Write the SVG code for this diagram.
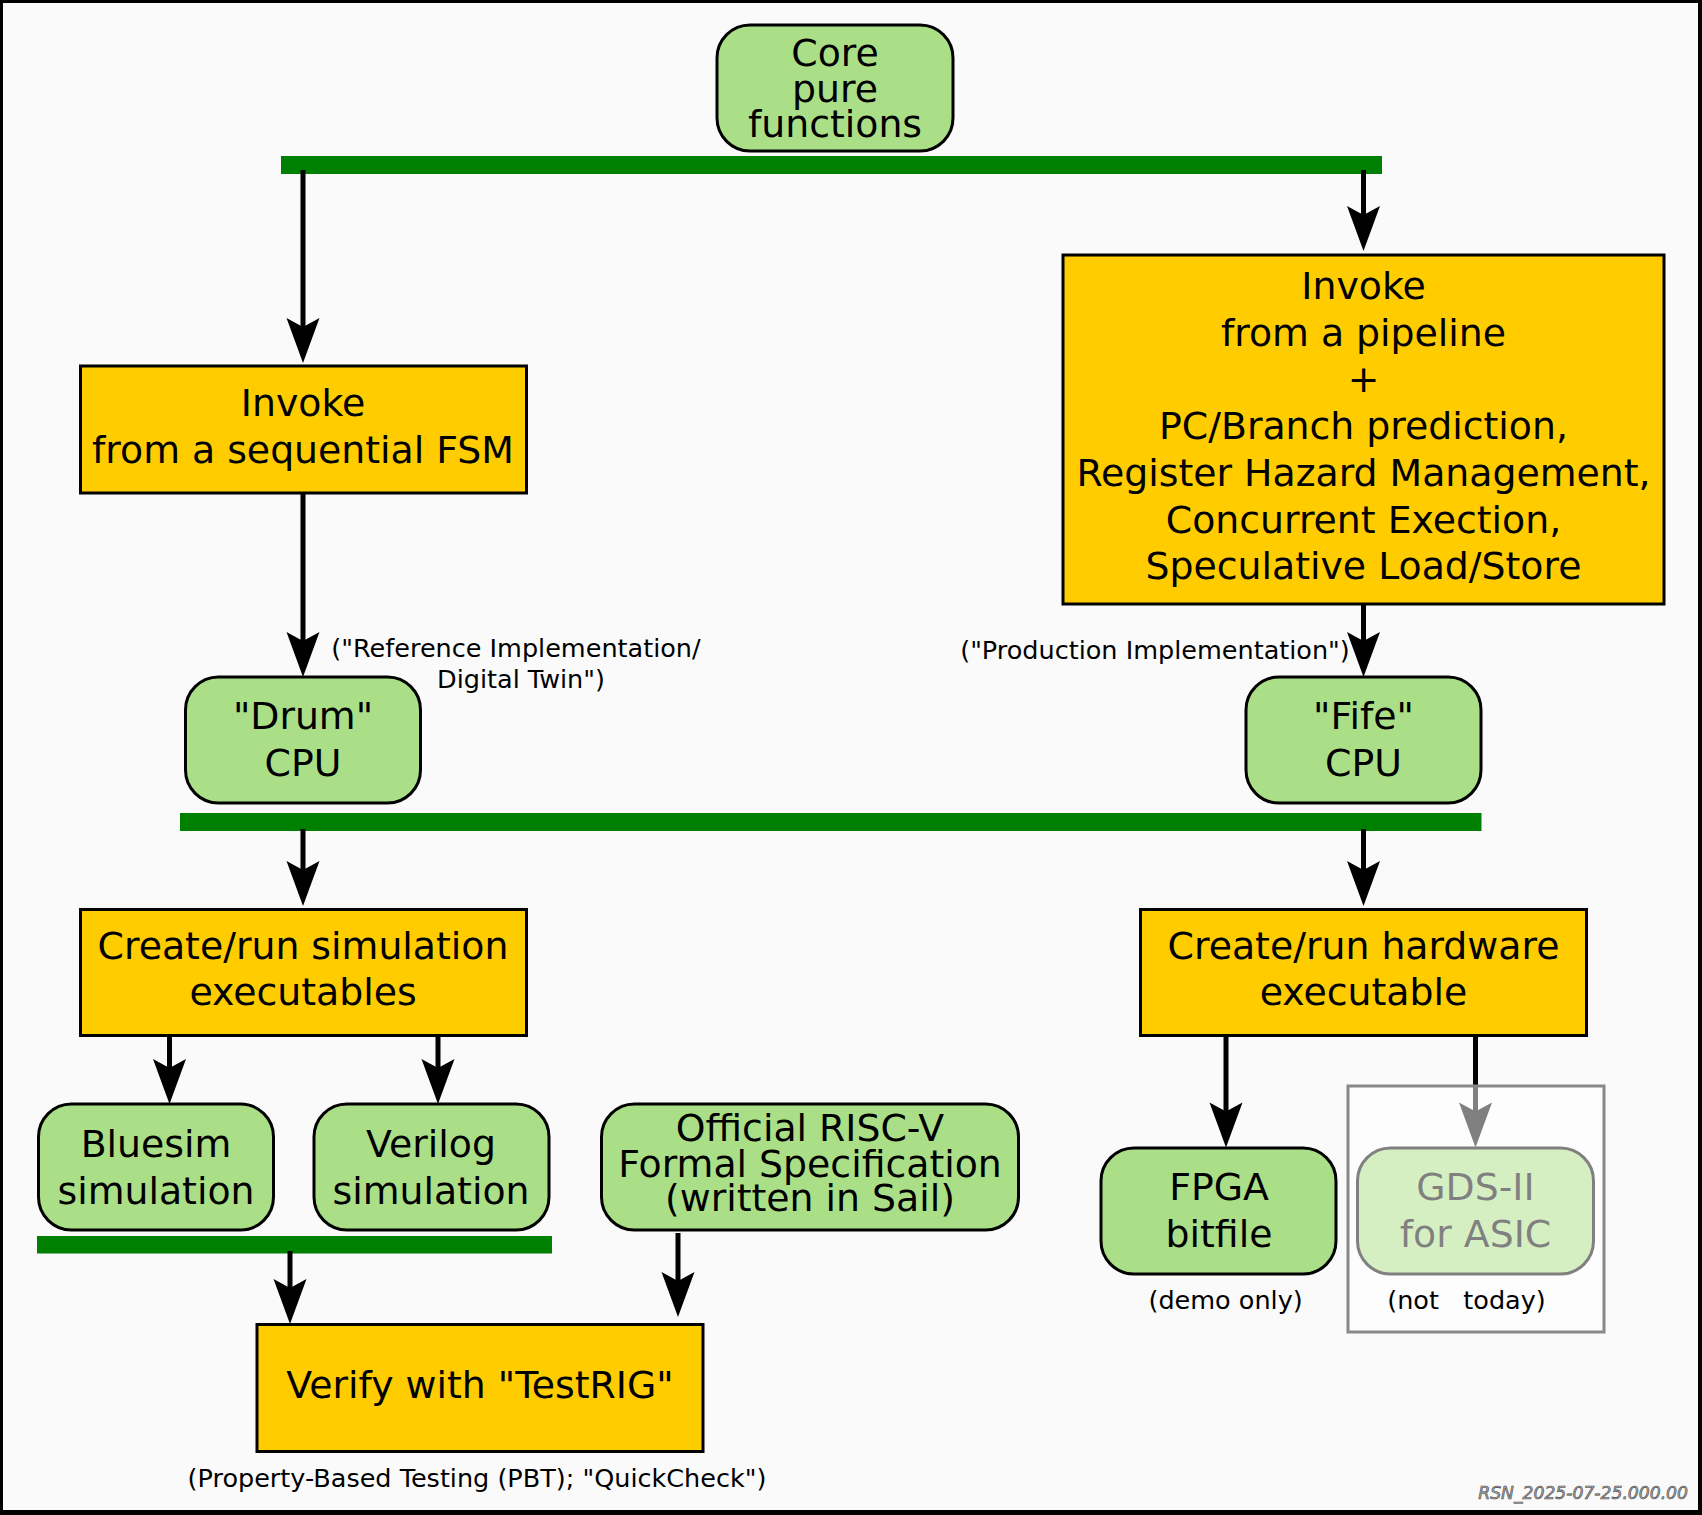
<svg xmlns="http://www.w3.org/2000/svg" width="1702" height="1515" viewBox="0 0 1702 1515">
<style>
.t{font-family:"DejaVu Sans",Verdana,sans-serif;font-size:37.8px;fill:#000;text-anchor:middle}
.s{font-family:"DejaVu Sans",Verdana,sans-serif;font-size:25.5px;fill:#000;text-anchor:middle;white-space:pre}
.g{fill:#abdf87;stroke:#000;stroke-width:3}
.y{fill:#ffcc00;stroke:#000;stroke-width:3}
.bar{fill:#008000}
.c{stroke:#000;stroke-width:5;fill:none;marker-end:url(#ah)}
</style>
<defs>
<marker id="ah" viewBox="-46 -17 47 34" refX="-34" refY="0" markerWidth="47" markerHeight="34" markerUnits="userSpaceOnUse" orient="auto">
<path d="M0,0 L-45,-16.5 L-36,0 L-45,16.5 Z" fill="#000"/>
</marker>
</defs>
<rect x="0" y="0" width="1702" height="1515" fill="#000"/>
<rect x="3" y="3" width="1695" height="1507" fill="#fafafa"/>

<g id="bars">
<rect class="bar" x="281" y="156" width="1101" height="18"/>
<rect class="bar" x="180" y="813" width="1301.5" height="18"/>
<rect class="bar" x="37" y="1236" width="515" height="17.5"/>
</g>

<g id="connectors">
<line class="c" x1="303" y1="170" x2="303" y2="329"/>
<line class="c" x1="1363.5" y1="170" x2="1363.5" y2="217"/>
<line class="c" x1="303" y1="493" x2="303" y2="643"/>
<line class="c" x1="1363.5" y1="604" x2="1363.5" y2="643"/>
<line class="c" x1="303" y1="829" x2="303" y2="872"/>
<line class="c" x1="1363.5" y1="829" x2="1363.5" y2="872"/>
<line class="c" x1="169.5" y1="1035" x2="169.5" y2="1070"/>
<line class="c" x1="438" y1="1035" x2="438" y2="1070"/>
<line class="c" x1="290" y1="1251" x2="290" y2="1290"/>
<line class="c" x1="678" y1="1233" x2="678" y2="1283"/>
<line class="c" x1="1226" y1="1035" x2="1226" y2="1113.5"/>
<line class="c" x1="1475.5" y1="1035" x2="1475.5" y2="1113.5"/>
</g>

<g id="core">
<rect class="g" x="717" y="25" width="236" height="126" rx="33" ry="33"/>
<text class="t" x="835" y="65.5">Core</text>
<text class="t" x="835" y="101.5">pure</text>
<text class="t" x="835" y="137">functions</text>
</g>

<g id="fsm">
<rect class="y" x="80.5" y="366" width="446" height="127"/>
<text class="t" x="303" y="415.5">Invoke</text>
<text class="t" x="303" y="462.5">from a sequential FSM</text>
</g>

<g id="pipeline">
<rect class="y" x="1063" y="255" width="601" height="349"/>
<text class="t" x="1363.5" y="299">Invoke</text>
<text class="t" x="1363.5" y="345.7">from a pipeline</text>
<text class="t" x="1363.5" y="392.4">+</text>
<text class="t" x="1363.5" y="439.1">PC/Branch prediction,</text>
<text class="t" x="1363.5" y="485.8">Register Hazard Management,</text>
<text class="t" x="1363.5" y="532.5">Concurrent Exection,</text>
<text class="t" x="1363.5" y="579.2">Speculative Load/Store</text>
</g>

<g id="drum">
<rect class="g" x="185.5" y="677" width="235" height="126" rx="33" ry="33"/>
<text class="t" x="303" y="729.3">"Drum"</text>
<text class="t" x="303" y="776">CPU</text>
</g>
<g id="drum-label">
<text class="s" x="516" y="657">("Reference Implementation/</text>
<text class="s" x="521" y="688">Digital Twin")</text>
</g>

<g id="fife">
<rect class="g" x="1246" y="677" width="235" height="126" rx="33" ry="33"/>
<text class="t" x="1363.5" y="729.4">"Fife"</text>
<text class="t" x="1363.5" y="775.6">CPU</text>
</g>
<g id="fife-label">
<text class="s" x="1155" y="658.6">("Production Implementation")</text>
</g>

<g id="sim">
<rect class="y" x="80.5" y="909.5" width="446" height="126"/>
<text class="t" x="303" y="958.7">Create/run simulation</text>
<text class="t" x="303" y="1005">executables</text>
</g>

<g id="hw">
<rect class="y" x="1140.5" y="909.5" width="446" height="126"/>
<text class="t" x="1363.5" y="958.7">Create/run hardware</text>
<text class="t" x="1363.5" y="1005">executable</text>
</g>

<g id="bluesim">
<rect class="g" x="38.5" y="1104" width="235" height="126" rx="33" ry="33"/>
<text class="t" x="156" y="1156.6">Bluesim</text>
<text class="t" x="156" y="1203.6">simulation</text>
</g>

<g id="verilog">
<rect class="g" x="314" y="1104" width="235" height="126" rx="33" ry="33"/>
<text class="t" x="431" y="1156.6">Verilog</text>
<text class="t" x="431" y="1203.6">simulation</text>
</g>

<g id="riscv">
<rect class="g" x="601.5" y="1104" width="417" height="126" rx="33" ry="33"/>
<text class="t" x="810" y="1141">Official RISC-V</text>
<text class="t" x="810" y="1176.7">Formal Specification</text>
<text class="t" x="810" y="1210.5">(written in Sail)</text>
</g>

<g id="verify">
<rect class="y" x="257" y="1324.5" width="446" height="127"/>
<text class="t" x="480" y="1398">Verify with "TestRIG"</text>
</g>
<g id="verify-label">
<text class="s" x="477" y="1487">(Property-Based Testing (PBT); "QuickCheck")</text>
</g>

<g id="fpga">
<rect class="g" x="1101" y="1148" width="235" height="126" rx="33" ry="33"/>
<text class="t" x="1219" y="1200.4">FPGA</text>
<text class="t" x="1219" y="1247">bitfile</text>
</g>
<g id="fpga-label">
<text class="s" x="1225.6" y="1309.4">(demo only)</text>
</g>

<g id="gds">
<rect class="g" x="1357.5" y="1148" width="236" height="126" rx="33" ry="33"/>
<text class="t" x="1475.5" y="1200.4">GDS-II</text>
<text class="t" x="1475.5" y="1247">for ASIC</text>
</g>

<g id="future-box">
<rect x="1348" y="1086" width="256" height="246" fill="#fff" fill-opacity="0.5" stroke="#888" stroke-width="3"/>
<text class="s" x="1466.5" y="1309.4">(not   today)</text>
</g>

<g id="version">
<text x="1688" y="1498.6" font-family="DejaVu Sans, Verdana, sans-serif" font-size="17.2" font-style="italic" text-anchor="end" fill="#aaa" stroke="#444" stroke-width="0.6">RSN_2025-07-25.000.00</text>
</g>
</svg>
